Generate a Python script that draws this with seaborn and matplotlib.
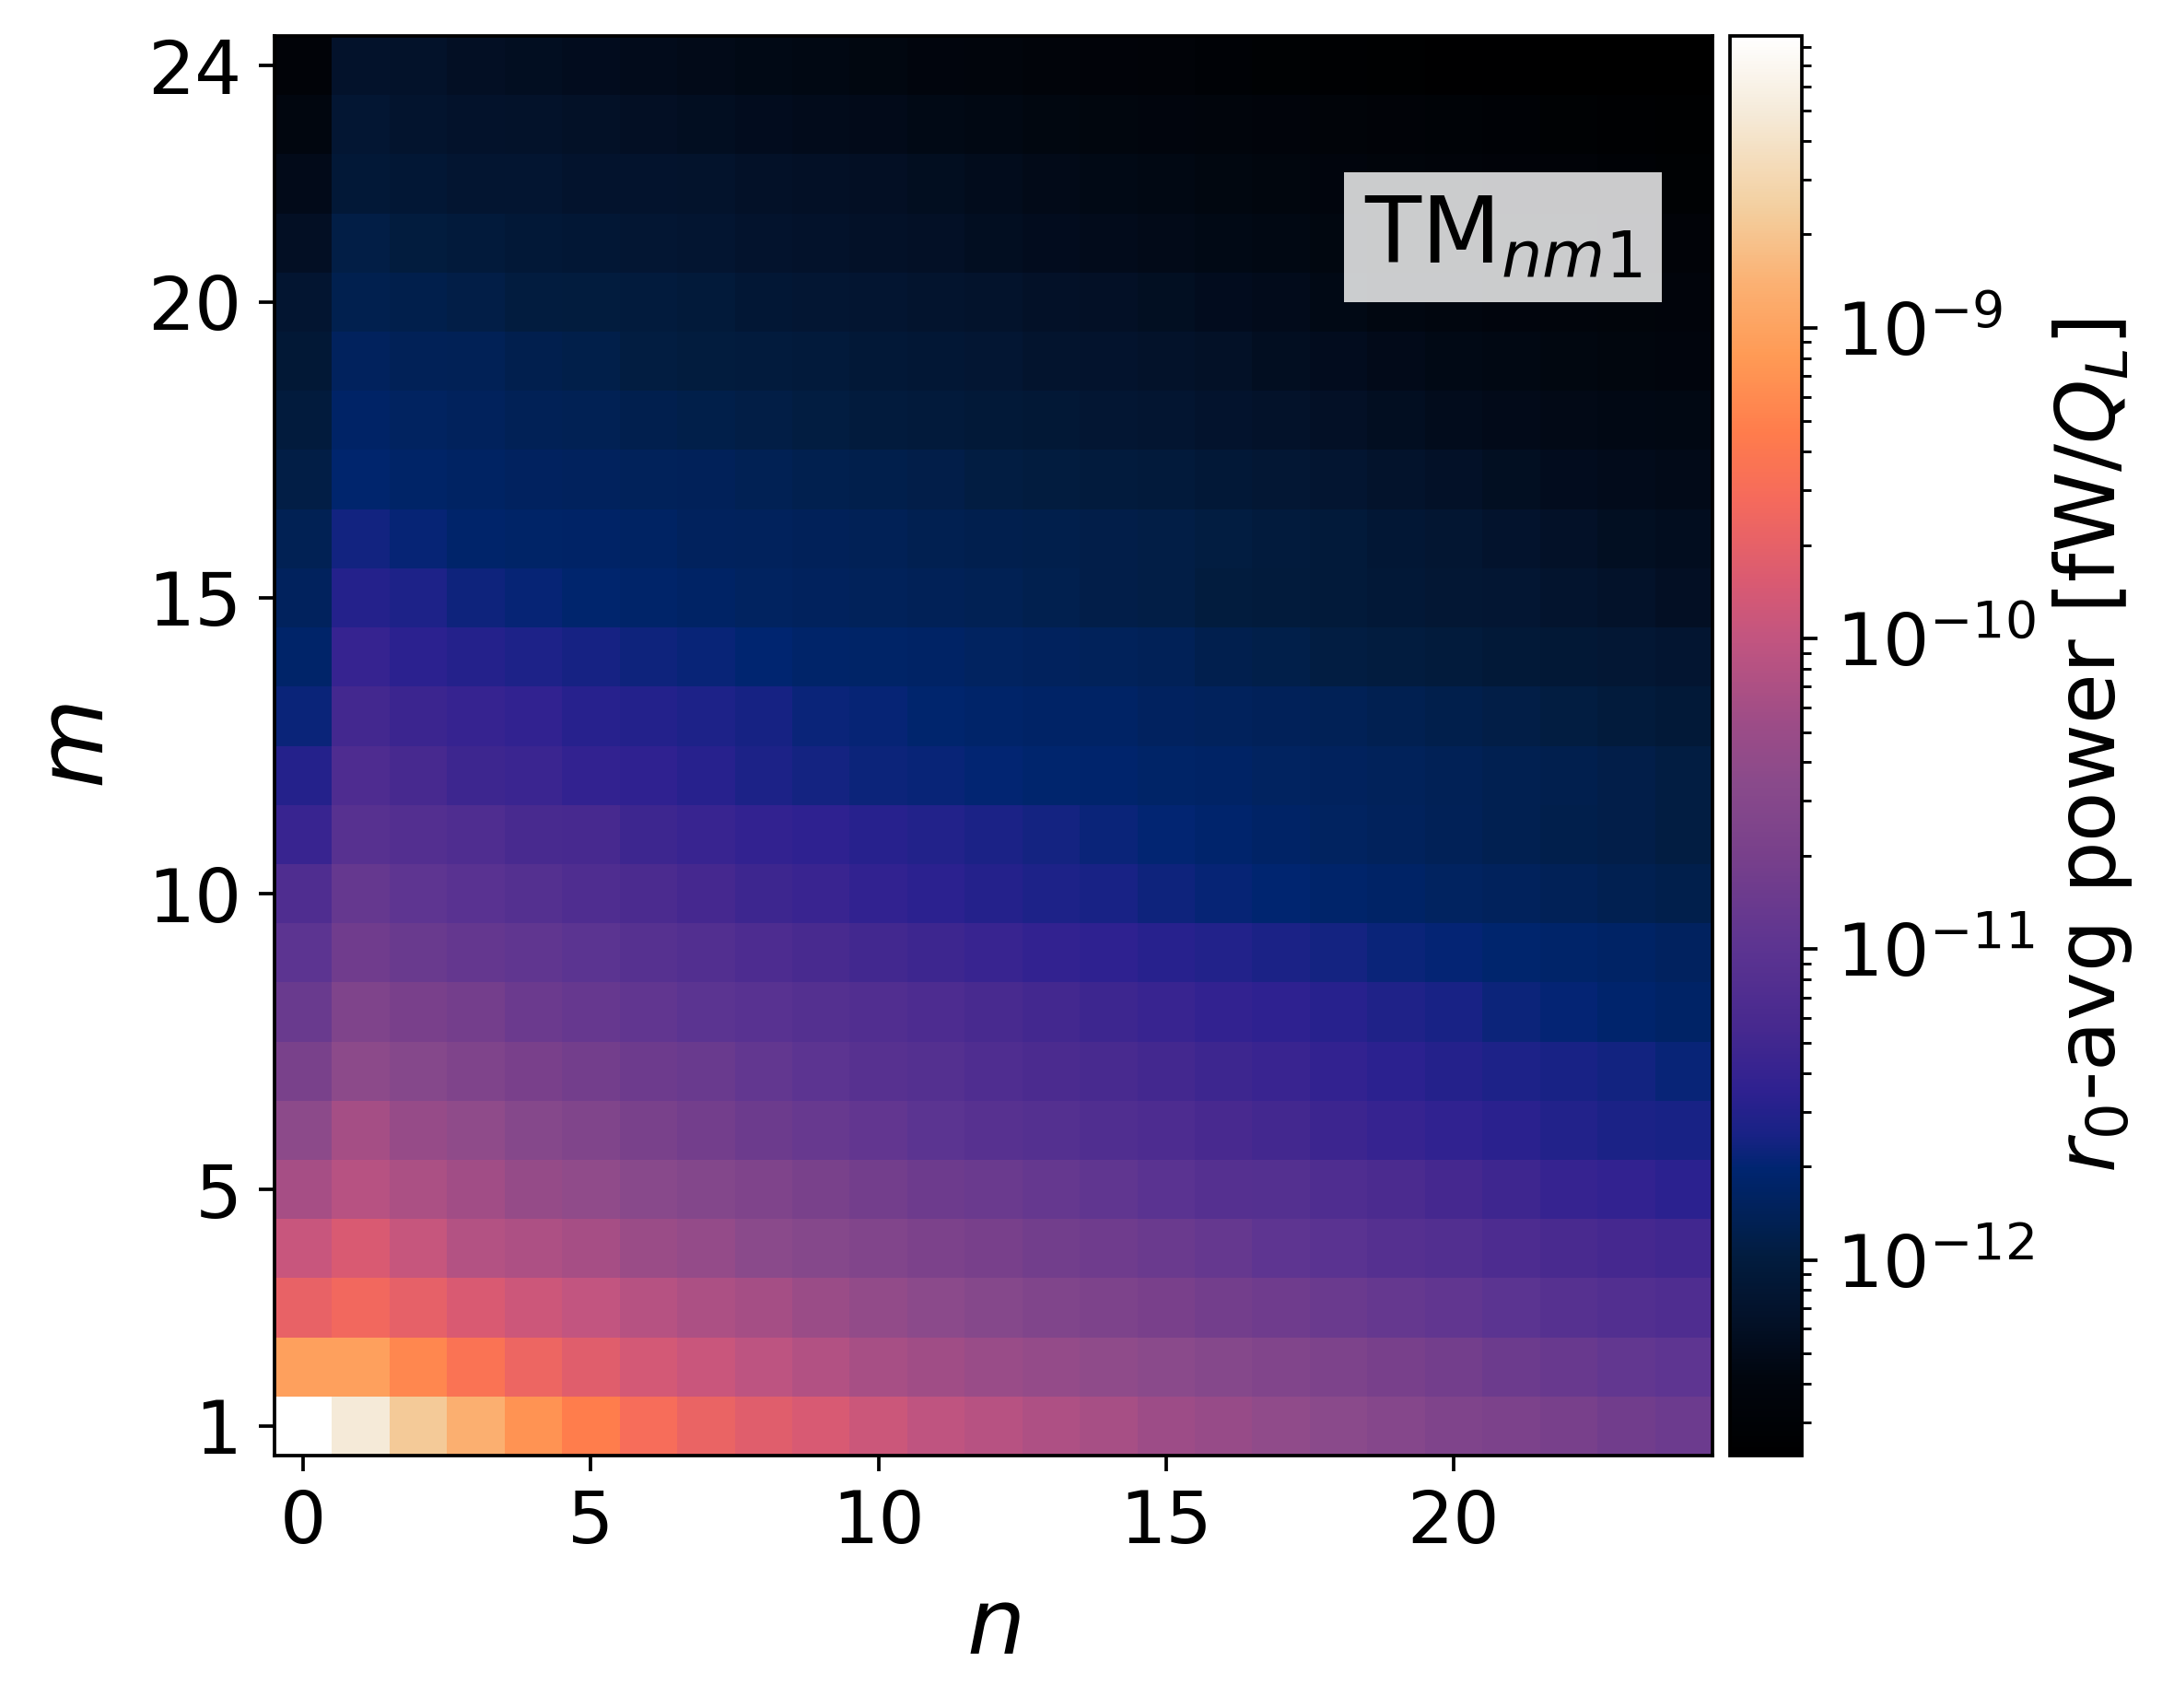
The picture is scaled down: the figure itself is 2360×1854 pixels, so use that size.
import numpy as np
import pandas as pd
import matplotlib
matplotlib.use("Agg")
import matplotlib.pyplot as plt
from matplotlib.colors import LogNorm, LinearSegmentedColormap
import seaborn as sns

n_values = list(range(25))
m_values = list(range(1, 25))
n_ticks = [0, 5, 10, 15, 20]
m_ticks = [1, 5, 10, 15, 20, 24]

# log10 of r0-averaged power (n = 0..24)
m01 = [-8.06,-8.31,-8.65,-8.88,-9.15,-9.33,-9.52,-9.65,-9.75,-9.83,-9.93,-10.02,-10.08,-10.14,-10.20,-10.27,-10.33,-10.40,-10.46,-10.53,-10.60,-10.64,-10.70,-10.77,-10.83]
m02 = [-9.03,-9.03,-9.25,-9.45,-9.63,-9.75,-9.87,-9.95,-10.04,-10.12,-10.20,-10.25,-10.31,-10.36,-10.41,-10.46,-10.52,-10.58,-10.63,-10.70,-10.75,-10.82,-10.87,-10.93,-10.97]
m03 = [-9.68,-9.58,-9.70,-9.82,-9.92,-10.00,-10.09,-10.16,-10.22,-10.30,-10.38,-10.45,-10.52,-10.59,-10.63,-10.69,-10.75,-10.80,-10.85,-10.90,-10.95,-11.01,-11.07,-11.12,-11.15]
m04 = [-9.96,-9.82,-9.97,-10.11,-10.15,-10.21,-10.30,-10.36,-10.46,-10.52,-10.58,-10.64,-10.70,-10.76,-10.80,-10.85,-10.90,-10.97,-11.03,-11.08,-11.12,-11.18,-11.22,-11.27,-11.30]
m05 = [-10.21,-10.08,-10.17,-10.24,-10.35,-10.40,-10.48,-10.55,-10.61,-10.68,-10.75,-10.81,-10.85,-10.90,-10.96,-11.03,-11.08,-11.10,-11.15,-11.21,-11.27,-11.32,-11.39,-11.42,-11.47]
m06 = [-10.44,-10.22,-10.34,-10.41,-10.52,-10.59,-10.68,-10.75,-10.82,-10.88,-10.94,-11.01,-11.06,-11.09,-11.14,-11.18,-11.24,-11.28,-11.34,-11.39,-11.44,-11.48,-11.54,-11.58,-11.60]
m07 = [-10.68,-10.44,-10.52,-10.60,-10.69,-10.75,-10.81,-10.86,-10.93,-11.00,-11.06,-11.10,-11.15,-11.20,-11.23,-11.28,-11.33,-11.37,-11.42,-11.47,-11.52,-11.56,-11.60,-11.63,-11.67]
m08 = [-10.86,-10.60,-10.69,-10.74,-10.84,-10.89,-10.95,-11.01,-11.05,-11.10,-11.13,-11.18,-11.23,-11.28,-11.33,-11.38,-11.42,-11.46,-11.50,-11.55,-11.60,-11.65,-11.69,-11.73,-11.77]
m09 = [-11.00,-10.79,-10.86,-10.91,-10.96,-11.01,-11.07,-11.12,-11.18,-11.23,-11.29,-11.33,-11.38,-11.42,-11.46,-11.50,-11.54,-11.58,-11.62,-11.66,-11.69,-11.72,-11.75,-11.78,-11.81]
m10 = [-11.15,-10.90,-10.97,-11.04,-11.09,-11.15,-11.20,-11.27,-11.33,-11.37,-11.43,-11.47,-11.52,-11.56,-11.60,-11.64,-11.68,-11.71,-11.74,-11.77,-11.80,-11.83,-11.86,-11.89,-11.92]
m11 = [-11.38,-11.06,-11.11,-11.15,-11.23,-11.25,-11.33,-11.38,-11.42,-11.46,-11.50,-11.54,-11.58,-11.62,-11.66,-11.70,-11.73,-11.77,-11.80,-11.83,-11.86,-11.89,-11.92,-11.94,-11.97]
m12 = [-11.52,-11.17,-11.25,-11.33,-11.36,-11.42,-11.45,-11.50,-11.57,-11.62,-11.65,-11.67,-11.70,-11.72,-11.73,-11.76,-11.78,-11.80,-11.82,-11.84,-11.87,-11.89,-11.91,-11.94,-11.97]
m13 = [-11.66,-11.28,-11.35,-11.39,-11.43,-11.50,-11.53,-11.56,-11.61,-11.66,-11.68,-11.72,-11.75,-11.77,-11.78,-11.81,-11.83,-11.85,-11.87,-11.89,-11.92,-11.95,-11.98,-12.02,-12.05]
m14 = [-11.75,-11.39,-11.47,-11.52,-11.56,-11.61,-11.64,-11.67,-11.71,-11.75,-11.76,-11.78,-11.80,-11.82,-11.84,-11.86,-11.91,-11.93,-11.97,-11.99,-12.02,-12.05,-12.07,-12.09,-12.12]
m15 = [-11.82,-11.52,-11.56,-11.64,-11.68,-11.72,-11.75,-11.78,-11.80,-11.82,-11.84,-11.86,-11.88,-11.90,-11.94,-11.96,-12.00,-12.02,-12.04,-12.06,-12.09,-12.10,-12.14,-12.18,-12.22]
m16 = [-11.88,-11.63,-11.68,-11.74,-11.76,-11.77,-11.79,-11.82,-11.83,-11.85,-11.87,-11.89,-11.91,-11.92,-11.94,-11.96,-11.98,-12.01,-12.04,-12.08,-12.11,-12.15,-12.19,-12.23,-12.26]
m17 = [-11.96,-11.72,-11.76,-11.79,-11.81,-11.82,-11.84,-11.85,-11.88,-11.90,-11.92,-11.94,-11.97,-11.99,-12.01,-12.03,-12.06,-12.09,-12.12,-12.16,-12.19,-12.23,-12.27,-12.29,-12.31]
m18 = [-12.01,-11.77,-11.80,-11.83,-11.87,-11.88,-11.91,-11.93,-11.96,-11.98,-12.01,-12.03,-12.05,-12.07,-12.10,-12.12,-12.15,-12.18,-12.21,-12.24,-12.28,-12.30,-12.32,-12.34,-12.35]
m19 = [-12.07,-11.82,-11.86,-11.87,-11.91,-11.93,-11.98,-12.00,-12.01,-12.03,-12.06,-12.08,-12.10,-12.14,-12.15,-12.18,-12.20,-12.24,-12.27,-12.30,-12.33,-12.35,-12.37,-12.39,-12.40]
m20 = [-12.12,-11.90,-11.92,-11.95,-11.99,-12.00,-12.01,-12.04,-12.08,-12.10,-12.12,-12.14,-12.16,-12.19,-12.21,-12.23,-12.27,-12.29,-12.33,-12.36,-12.38,-12.40,-12.42,-12.44,-12.45]
m21 = [-12.22,-11.96,-12.00,-12.03,-12.06,-12.08,-12.10,-12.12,-12.15,-12.17,-12.19,-12.21,-12.24,-12.27,-12.29,-12.31,-12.33,-12.35,-12.37,-12.40,-12.42,-12.44,-12.46,-12.48,-12.50]
m22 = [-12.30,-12.06,-12.08,-12.12,-12.12,-12.15,-12.15,-12.16,-12.19,-12.21,-12.22,-12.25,-12.28,-12.31,-12.33,-12.35,-12.37,-12.39,-12.41,-12.44,-12.46,-12.48,-12.50,-12.53,-12.55]
m23 = [-12.38,-12.10,-12.14,-12.17,-12.18,-12.20,-12.22,-12.24,-12.27,-12.29,-12.30,-12.33,-12.35,-12.37,-12.39,-12.41,-12.43,-12.45,-12.47,-12.49,-12.51,-12.53,-12.56,-12.58,-12.60]
m24 = [-12.50,-12.17,-12.18,-12.22,-12.24,-12.27,-12.29,-12.31,-12.33,-12.35,-12.37,-12.40,-12.43,-12.46,-12.48,-12.50,-12.53,-12.55,-12.57,-12.60,-12.61,-12.62,-12.63,-12.63,-12.63]

log_rows = [m01, m02, m03, m04, m05, m06, m07, m08, m09, m10, m11, m12,
            m13, m14, m15, m16, m17, m18, m19, m20, m21, m22, m23, m24]
power = pd.DataFrame(10.0 ** np.array(log_rows), index=m_values, columns=n_values)

VMIN, VMAX = 10 ** -12.63, 10 ** -8.06

# colormap stops: (log10 value on the colorbar, colour)
stops = [(-12.63, "#000000"), (-12.38, "#01060f"), (-12.18, "#03122a"), (-12.0, "#021c3e"),
         (-11.87, "#012156"), (-11.71, "#002570"), (-11.6, "#182285"), (-11.46, "#2e2190"),
         (-11.25, "#47298f"), (-11.0, "#5c3491"), (-10.7, "#78408b"), (-10.47, "#894a8b"),
         (-10.28, "#9c4c87"), (-10.0, "#c25580"), (-9.82, "#d95a72"), (-9.55, "#f56a5c"),
         (-9.34, "#ff7c4c"), (-9.09, "#ff9a55"), (-8.85, "#fbb173"), (-8.61, "#f3cf9f"),
         (-8.31, "#f5ead8"), (-8.06, "#ffffff")]
cmap = LinearSegmentedColormap.from_list(
    "power", [((v + 12.63) / (12.63 - 8.06), c) for v, c in stops], N=512)

W, H = 2360, 1854
fig = plt.figure(figsize=(W / 300, H / 300), dpi=300)
ax = fig.add_axes([298 / W, 1 - 1580 / H, (1859 - 298) / W, (1580 - 39) / H])
cax = fig.add_axes([1878 / W, 1 - 1580 / H, (1956 - 1878) / W, (1580 - 39) / H])

sns.heatmap(power, ax=ax, cmap=cmap, norm=LogNorm(vmin=VMIN, vmax=VMAX), cbar=True, cbar_ax=cax,
            xticklabels=False, yticklabels=False, square=False, linewidths=0, rasterized=True)
ax.invert_yaxis()

ax.set_xticks([n_values.index(v) + 0.5 for v in n_ticks])
ax.set_xticklabels([str(v) for v in n_ticks], rotation=0)
ax.set_yticks([m_values.index(v) + 0.5 for v in m_ticks])
ax.set_yticklabels([str(v) for v in m_ticks], rotation=0)
ax.tick_params(axis="x", labelsize=19, length=4, width=0.9, pad=4.5, bottom=True)
ax.tick_params(axis="y", labelsize=19.3, length=4, width=0.9, pad=4.5, left=True)
ax.set_xlabel("$n$", fontsize=24, labelpad=6.7)
ax.set_ylabel("$m$", fontsize=24, labelpad=6.5)
for s in ax.spines.values():
    s.set_visible(True)
    s.set_linewidth(0.9)
    s.set_color("black")

cb = ax.collections[0].colorbar
cb.outline.set_visible(True)
cb.outline.set_linewidth(0.9)
cb.outline.set_edgecolor("black")
cax.tick_params(which="major", labelsize=19, length=4, width=0.9, pad=5)
cax.tick_params(which="minor", length=2.4, width=0.7)
cax.set_ylabel(r"$r_0$-avg power [fW/$Q_L$]", fontsize=21.4, labelpad=3.8)

ax.text((1481 - 298) / (1859 - 298) * 25, (1580 - 285) / (1580 - 39) * 24, r"TM$_{nm1}$",
        fontsize=24, color="black", ha="left", va="baseline",
        bbox=dict(facecolor="white", alpha=0.8, edgecolor="none", pad=5.3))

fig.savefig("out.png", dpi=300)
